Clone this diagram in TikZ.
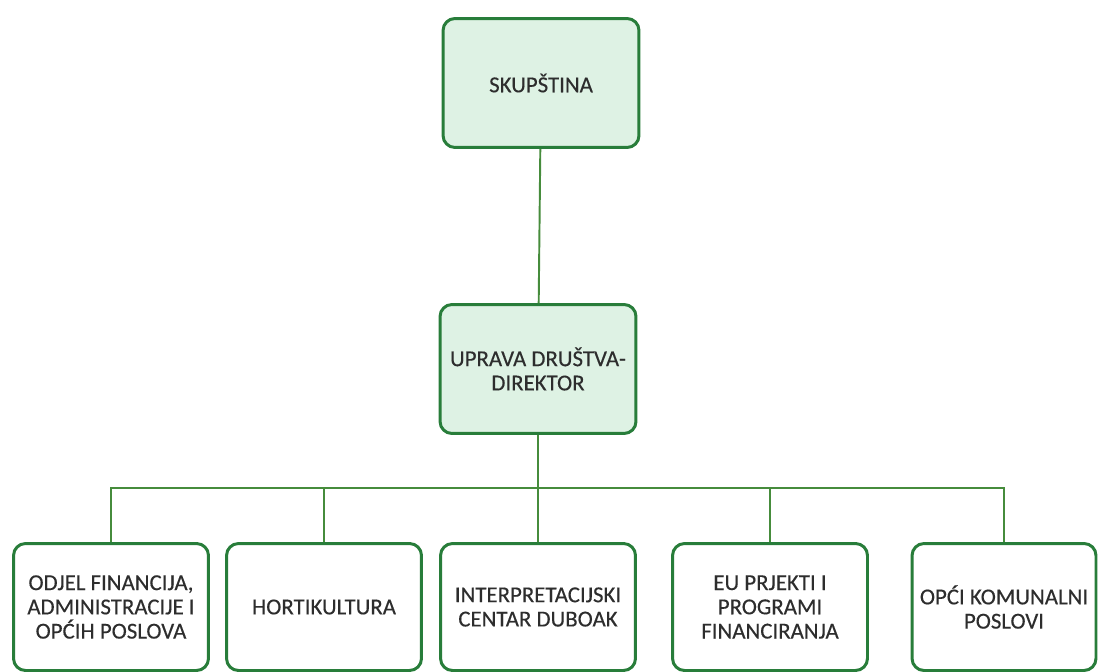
\documentclass[tikz,border=0pt]{standalone}
\usepackage{fontspec}
\setmainfont{Carlito}[FakeBold=0.3]
\usetikzlibrary{positioning,calc}
\definecolor{boxgreen}{RGB}{40,125,58}
\definecolor{linegreen}{RGB}{70,140,60}
\definecolor{palegreen}{RGB}{222,242,228}
\definecolor{textgray}{RGB}{45,45,45}

\begin{document}
\begin{tikzpicture}[
    x=0.02cm, y=-0.02cm,
    unit/.style={rectangle, rounded corners=0.24cm, draw=boxgreen, line width=1.7pt,
        text=textgray, align=center, inner sep=2pt,
        font=\fontsize{13}{13.8}\selectfont},
    top/.style={unit, fill=palegreen, minimum width=3.92cm, minimum height=2.58cm},
    dept/.style={unit, fill=white, minimum width=3.9cm, minimum height=2.54cm},
    link/.style={draw=linegreen, line width=1.1pt}
]
    \useasboundingbox (0,0) rectangle (1098,672);

    \node[top] (board) at (541,83) {SKUPŠTINA};
    \node[top] (mgmt) at (538,369) {UPRAVA DRUŠTVA-\\DIREKTOR};

    \node[dept] (fin) at (111,607) {ODJEL FINANCIJA,\\ADMINISTRACIJE I\\OPĆIH POSLOVA};
    \node[dept] (hort) at (324,607) {HORTIKULTURA};
    \node[dept] (centre) at (538,607) {INTERPRETACIJSKI\\CENTAR DUBOAK};
    \node[dept] (eu) at (770,607) {EU PRJEKTI I\\PROGRAMI\\FINANCIRANJA};
    \node[dept, minimum width=3.68cm] (comm) at (1004,607) {OPĆI KOMUNALNI\\POSLOVI};

    \coordinate (bus) at (538,488);

    \draw[link] (board) -- (mgmt);
    \draw[link] (mgmt) -- (bus);
    \draw[link] (fin.north) -- (fin.north |- bus) -- (comm.north |- bus) -- (comm.north);
    \draw[link] (hort.north) -- (hort.north |- bus);
    \draw[link] (centre.north) -- (centre.north |- bus);
    \draw[link] (eu.north) -- (eu.north |- bus);
\end{tikzpicture}
\end{document}
